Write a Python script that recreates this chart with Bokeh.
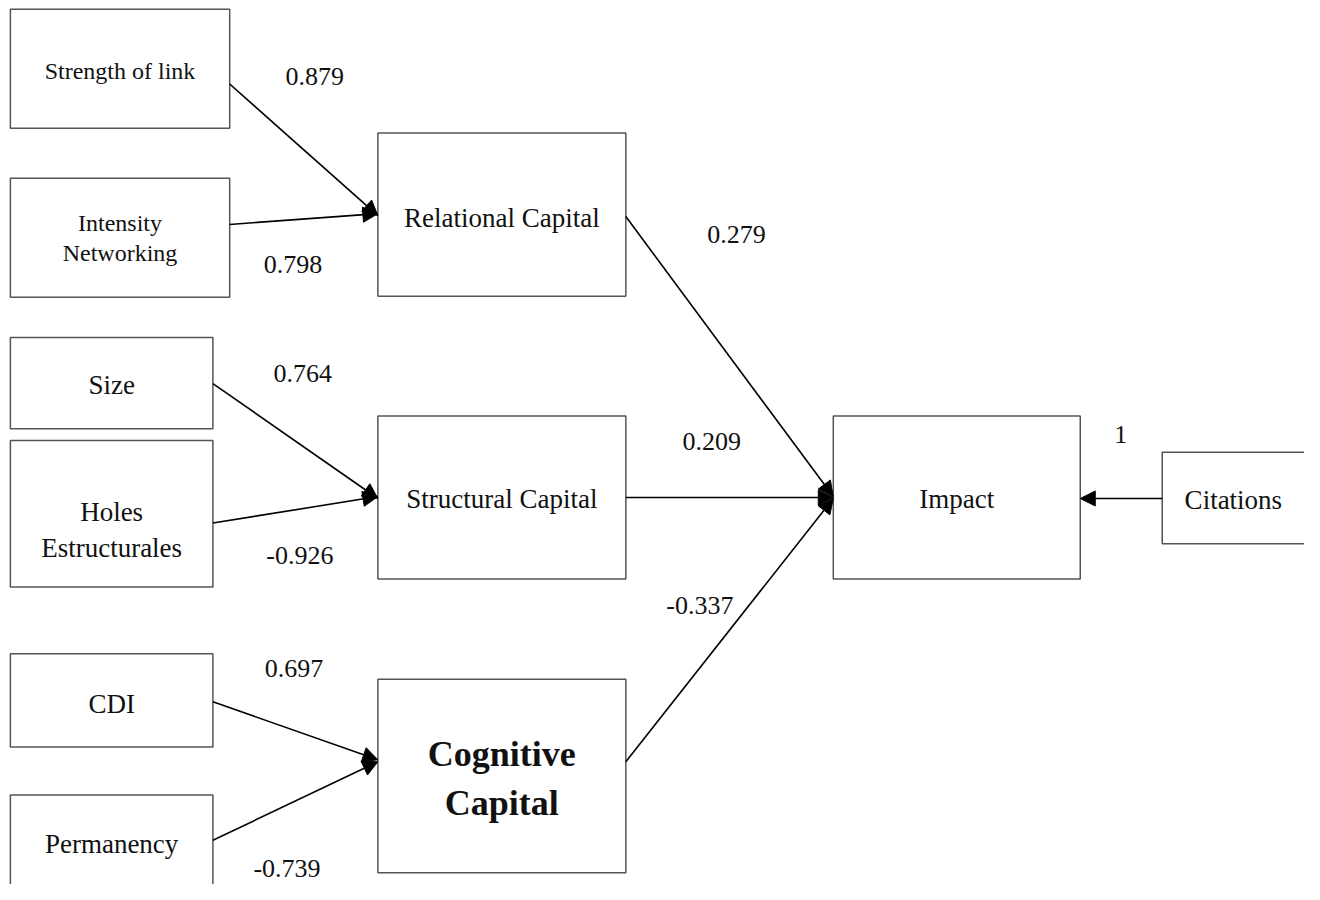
from bokeh.plotting import figure
from bokeh.models import Range1d, ColumnDataSource, Arrow, NormalHead
from bokeh.core.properties import value
from bokeh.embed import file_html
from bokeh.resources import INLINE

# ---- data ----
nodes = ["Strength of link", "Intensity\nNetworking", "Relational Capital", "Size",
         "Holes\nEstructurales", "Structural Capital", "CDI", "Permanency",
         "Cognitive\nCapital", "Impact", "Citations"]
path_from = ["Strength of link", "Intensity\nNetworking", "Size", "Holes\nEstructurales",
             "CDI", "Permanency", "Relational Capital", "Structural Capital",
             "Cognitive\nCapital", "Citations"]
path_to = ["Relational Capital", "Relational Capital", "Structural Capital", "Structural Capital",
           "Cognitive\nCapital", "Cognitive\nCapital", "Impact", "Impact", "Impact", "Impact"]
coefficients = [0.879, 0.798, 0.764, -0.926, 0.697, -0.739, 0.279, 0.209, -0.337, 1]

# ---- layout (pixel space of the reference) ----
box_left = [10, 10, 382, 10, 10, 382, 10, 10, 382, 843, 1176]
box_right = [232, 232, 633, 215, 215, 633, 215, 215, 633, 1093, 1322]
box_top = [9, 181, 135, 343, 448, 423, 665, 809, 691, 423, 460]
box_bottom = [130, 302, 301, 436, 597, 589, 760, 905, 888, 589, 553]
text_y = [72, 242, 221, 391, 539, 508, 716, 859, 792, 508, 509]
text_size = ["24px", "24px", "27px", "27px", "27px", "27px", "27px", "27px", "36px", "27px", "27px"]
text_style = ["normal"] * 8 + ["bold", "normal", "normal"]
line_gap = [1.2, 1.15, 1.2, 1.2, 1.18, 1.2, 1.2, 1.2, 1.22, 1.2, 1.2]

arrow_x0 = [232, 232, 215, 215, 215, 215, 633, 633, 633, 1176]
arrow_y0 = [85, 228, 390, 532, 714, 855, 220, 506, 775, 507]
arrow_x1 = [382, 382, 382, 382, 382, 382, 843, 843, 843, 1093]
arrow_y1 = [219, 217, 507, 505, 773, 775, 505, 506, 507, 507]
label_x = [318, 296, 306, 303, 297, 290, 745, 720, 708, 1134]
label_y = [77, 269, 380, 565, 680, 884, 238, 449, 616, 442]

p = figure(width=1304, height=884, output_backend="svg", toolbar_location=None,
           x_range=Range1d(0, 1320), y_range=Range1d(900, 0),
           min_border=0, outline_line_color=None)
p.axis.visible = False
p.grid.visible = False

boxes = ColumnDataSource(dict(left=box_left, right=box_right, top=box_top, bottom=box_bottom))
p.quad(left="left", right="right", top="top", bottom="bottom", source=boxes,
       fill_color="white", line_color="#555555", line_width=1.5)

cx = [(a + b) / 2 for a, b in zip(box_left, box_right)]
cx[-1] = 1248
txt = ColumnDataSource(dict(x=cx, y=text_y, t=nodes, s=text_size, st=text_style, lh=line_gap))
p.text(x="x", y="y", text="t", source=txt, text_font=value("Liberation Serif"),
       text_font_size="s", text_font_style="st", text_line_height="lh",
       text_align="center", text_baseline="middle", text_color="#111111")

for i in range(len(coefficients)):
    p.add_layout(Arrow(end=NormalHead(size=15, fill_color="black", line_color="black", line_width=1),
                       x_start=arrow_x0[i], y_start=arrow_y0[i],
                       x_end=arrow_x1[i], y_end=arrow_y1[i],
                       line_color="black", line_width=1.6))

lab = ColumnDataSource(dict(x=label_x, y=label_y, t=[f"{v:g}" for v in coefficients]))
p.text(x="x", y="y", text="t", source=lab, text_font=value("Liberation Serif"),
       text_font_size="26px", text_align="center", text_baseline="middle", text_color="#111111")

open("out.html", "w").write(file_html(p, INLINE))
